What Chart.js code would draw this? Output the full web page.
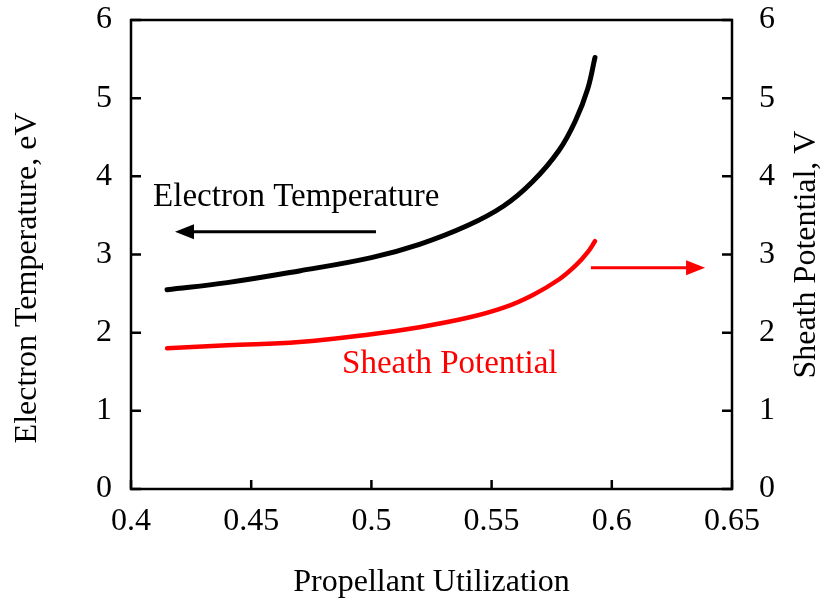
<!DOCTYPE html>
<html>
<head>
<meta charset="utf-8">
<script src="https://cdn.jsdelivr.net/npm/chart.js@4.4.0/dist/chart.umd.min.js"></script>
<style>
  html, body { margin: 0; padding: 0; background: #fff; }
  #wrap { width: 823px; height: 607px; }
</style>
</head>
<body>
<div id="wrap"><canvas id="myChart" width="823" height="607"></canvas></div>
<script>
// values
const utilization = [0.415, 0.44, 0.47, 0.5, 0.52, 0.54, 0.555, 0.567, 0.578, 0.585, 0.59, 0.593];
const electronTemp = [2.55, 2.64, 2.79, 2.96, 3.13, 3.37, 3.62, 3.93, 4.33, 4.72, 5.12, 5.52];
const sheathPot = [1.80, 1.84, 1.88, 1.98, 2.07, 2.19, 2.32, 2.48, 2.68, 2.86, 3.03, 3.17];
const xTicks = [0.4, 0.45, 0.5, 0.55, 0.6, 0.65];
const yTicks = [0, 1, 2, 3, 4, 5, 6];

const FONT = '"Liberation Serif", "Times New Roman", serif';

const toPts = (ys) => utilization.map((x, i) => ({ x: x, y: ys[i] }));

// frame, inward ticks, side titles, labels and arrows
const decor = {
  id: 'decor',
  afterDraw(chart) {
    const c = chart.ctx;
    const a = chart.chartArea;
    const xs = chart.scales.x, yl = chart.scales.y, yr = chart.scales.y2;
    c.save();
    c.strokeStyle = '#000';
    c.lineWidth = 2.5;
    c.strokeRect(a.left, a.top, a.right - a.left, a.bottom - a.top);
    c.beginPath();
    yTicks.forEach(v => {
      const py = yl.getPixelForValue(v);
      c.moveTo(a.left, py); c.lineTo(a.left + 10, py);
      const py2 = yr.getPixelForValue(v);
      c.moveTo(a.right, py2); c.lineTo(a.right - 10, py2);
    });
    xTicks.forEach(v => {
      const px = xs.getPixelForValue(v);
      c.moveTo(px, a.bottom); c.lineTo(px, a.bottom - 9);
    });
    c.stroke();

    // vertical axis titles
    c.fillStyle = '#000';
    c.font = '32px ' + FONT;
    c.textAlign = 'center';
    c.textBaseline = 'middle';
    c.save();
    c.translate(28, yl.getPixelForValue(2.7));
    c.rotate(-Math.PI / 2);
    c.fillText('Electron Temperature, eV', 0, 0);
    c.restore();
    c.save();
    c.translate(807, yr.getPixelForValue(3.0));
    c.rotate(-Math.PI / 2);
    c.fillText('Sheath Potential, V', 0, 0);
    c.restore();

    // text labels
    c.font = '33px ' + FONT;
    c.textAlign = 'left';
    c.fillStyle = '#000';
    c.fillText('Electron Temperature', xs.getPixelForValue(0.4092), yl.getPixelForValue(3.73));
    c.fillStyle = '#ff0000';
    c.fillText('Sheath Potential', xs.getPixelForValue(0.4878), yl.getPixelForValue(1.59));

    // arrows
    const arrow = (x1, x2, y, col, w) => {
      const p1 = xs.getPixelForValue(x1), p2 = xs.getPixelForValue(x2);
      const dir = Math.sign(p2 - p1);
      c.strokeStyle = col; c.fillStyle = col; c.lineWidth = w;
      c.beginPath();
      c.moveTo(p1, y); c.lineTo(p2 - dir * 14, y);
      c.stroke();
      c.beginPath();
      c.moveTo(p2, y);
      c.lineTo(p2 - dir * 19, y - 7.5);
      c.lineTo(p2 - dir * 19, y + 7.5);
      c.closePath();
      c.fill();
    };
    arrow(0.5019, 0.4183, yl.getPixelForValue(3.29), '#000', 3);
    arrow(0.5913, 0.6388, yr.getPixelForValue(2.83), '#ff0000', 3);
    c.restore();
  }
};

const noPad = (s) => { s.paddingTop = 0; s.paddingBottom = 0; s.paddingLeft = 0; s.paddingRight = 0; };

new Chart(document.getElementById('myChart'), {
  type: 'line',
  data: {
    datasets: [
      {
        label: 'Electron Temperature',
        data: toPts(electronTemp),
        yAxisID: 'y',
        borderColor: '#000',
        borderWidth: 5,
        pointRadius: 0,
        tension: 0.4,
        borderCapStyle: 'round'
      },
      {
        label: 'Sheath Potential',
        data: toPts(sheathPot),
        yAxisID: 'y2',
        borderColor: '#ff0000',
        borderWidth: 4.5,
        pointRadius: 0,
        tension: 0.4,
        borderCapStyle: 'round'
      }
    ]
  },
  options: {
    responsive: false,
    animation: false,
    layout: { padding: { top: 20, left: 0, right: 0, bottom: 0 } },
    plugins: { legend: { display: false }, tooltip: { enabled: false } },
    scales: {
      x: {
        type: 'linear',
        min: 0.4, max: 0.65,
        afterBuildTicks: (s) => { s.ticks = xTicks.map(v => ({ value: v })); },
        afterFit: (s) => { s.height = 118; noPad(s); },
        grid: { display: false, drawTicks: false },
        border: { display: false },
        ticks: {
          color: '#000', padding: 17, maxRotation: 0,
          font: { family: FONT, size: 32, lineHeight: 1 },
          callback: (v) => String(v)
        },
        title: {
          display: true, text: 'Propellant Utilization', color: '#000',
          font: { family: FONT, size: 32, lineHeight: 1 }, padding: { top: 0, bottom: 8 }
        }
      },
      y: {
        position: 'left',
        min: 0, max: 6,
        afterBuildTicks: (s) => { s.ticks = yTicks.map(v => ({ value: v })); },
        afterFit: (s) => { s.width = 131; noPad(s); },
        grid: { display: false, drawTicks: false },
        border: { display: false },
        ticks: { color: '#000', padding: 19, font: { family: FONT, size: 32, lineHeight: 1 } }
      },
      y2: {
        position: 'right',
        min: 0, max: 6,
        afterBuildTicks: (s) => { s.ticks = yTicks.map(v => ({ value: v })); },
        afterFit: (s) => { s.width = 91; noPad(s); },
        grid: { display: false, drawTicks: false },
        border: { display: false },
        ticks: { color: '#000', padding: 27, font: { family: FONT, size: 32, lineHeight: 1 } }
      }
    }
  },
  plugins: [decor]
});
</script>
</body>
</html>
